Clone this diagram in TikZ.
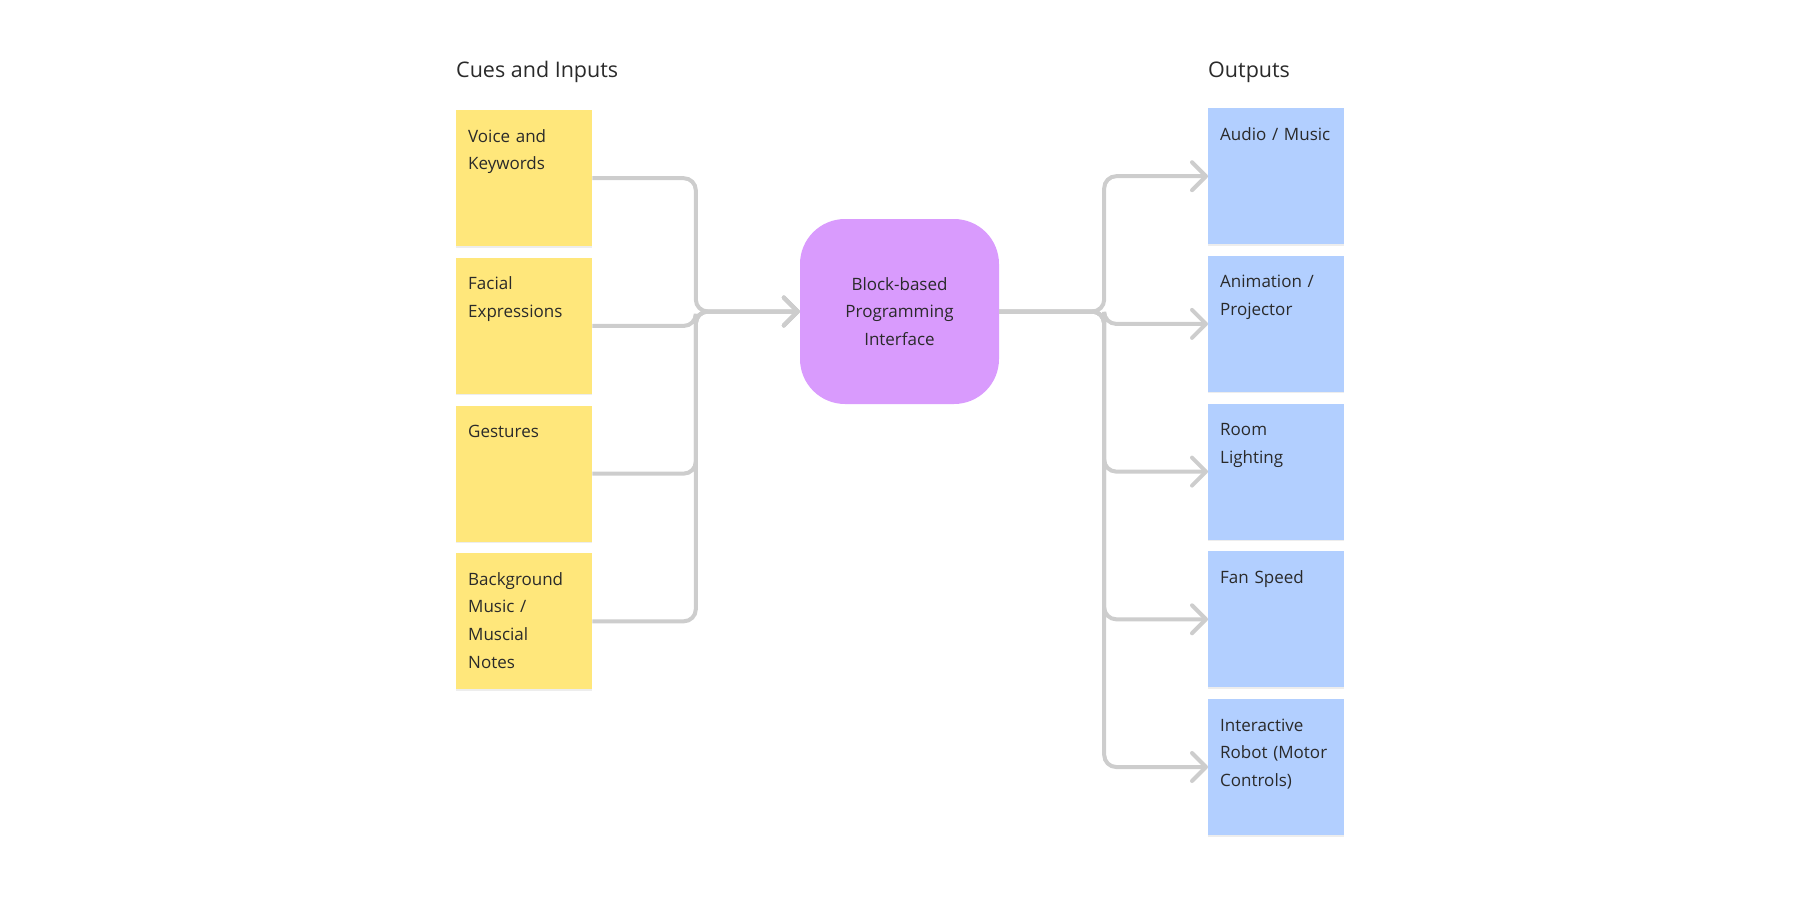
\documentclass[tikz,border=0pt]{standalone}
\usepackage{fontspec}
\setmainfont{Open Sans}
\usepackage{tikz}
\usetikzlibrary{positioning,arrows.meta,shadows}
\definecolor{notey}{HTML}{FFE77B}
\definecolor{noteb}{HTML}{B2CFFF}
\definecolor{notep}{HTML}{D99BFD}
\definecolor{linegray}{HTML}{CDCDCD}
\definecolor{inkgray}{HTML}{2A2A2A}

\begin{document}
\begin{tikzpicture}[x=1pt, y=-1pt,
    note/.style={rectangle, inner xsep=12pt, inner ysep=0pt, text width=112pt,
      align=left, text height=32pt, text depth=104pt, text=inkgray,
      font=\fontsize{17}{27.6}\selectfont,
      drop shadow={shadow xshift=0pt, shadow yshift=-1.5pt, opacity=0.07, fill=black}},
    cue/.style={note, fill=notey},
    outbox/.style={note, fill=noteb},
    heading/.style={anchor=base west, inner sep=0pt, text=inkgray,
      font=\fontsize{21.5}{26}\selectfont},
    conn/.style={draw=linegray, line width=4pt, rounded corners=12pt,
      -{Straight Barb[length=14pt, width=28pt, round]}}]

  \useasboundingbox (0,0) rectangle (1800,900);

  % inputs
  \node[cue, anchor=north west] (voice) at (456,110) {Voice and\\Keywords};
  \node[cue, below=11.3pt of voice] (face) {Facial\\Expressions};
  \node[cue, below=11.3pt of face] (gest) {Gestures};
  \node[cue, below=11.3pt of gest] (music) {Background\\Music /\\Muscial\\Notes};

  \node[heading] (tin) at ([yshift=33pt]voice.north west) {Cues and Inputs};

  % centre
  \node[rectangle, fill=notep, rounded corners=45pt, minimum width=199pt,
    minimum height=185pt, align=center, text=inkgray,
    font=\fontsize{17}{27.6}\selectfont] (bpi) at (899.5,311.5)
    {Block-based\\Programming\\Interface};

  % outputs
  \node[outbox, anchor=north west] (audio) at (1208,108) {Audio / Music};
  \node[outbox, below=11.3pt of audio] (anim) {Animation /\\Projector};
  \node[outbox, below=11.3pt of anim] (light) {Room\\Lighting};
  \node[outbox, below=11.3pt of light] (fan) {Fan Speed};
  \node[outbox, below=11.3pt of fan] (robot) {Interactive\\Robot (Motor\\Controls)};

  \node[heading] (tout) at ([yshift=31pt]audio.north west) {Outputs};

  \coordinate (jin) at ([xshift=-104pt]bpi.west);
  \coordinate (jout) at ([xshift=105pt]bpi.east);

  \foreach \src in {voice,face,gest,music}
    \draw[conn] (\src.east) -| (jin) -- (bpi.west);

  \foreach \dst in {audio,anim,light,fan,robot}
    \draw[conn] (bpi.east) -| (jout |- \dst.west) -- (\dst.west);

\end{tikzpicture}
\end{document}
